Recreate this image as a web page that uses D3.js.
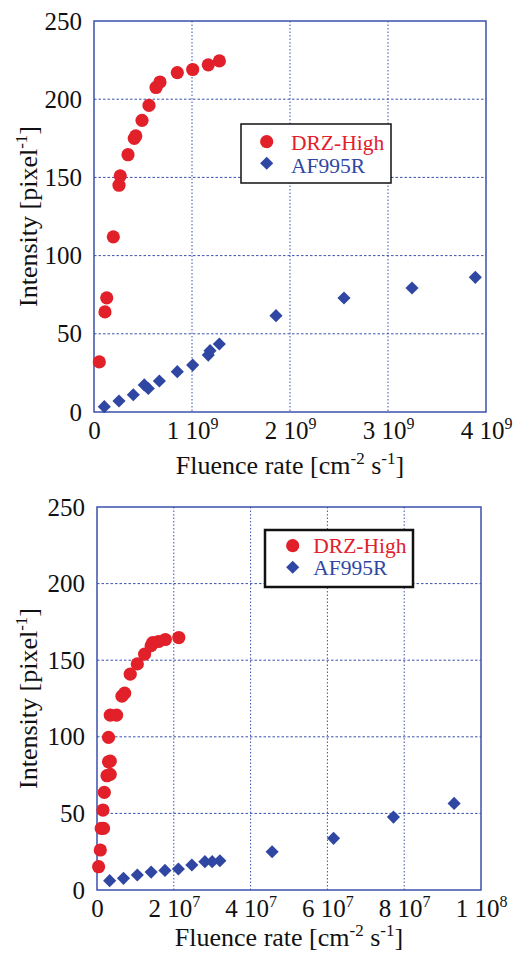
<!DOCTYPE html>
<html>
<head>
<meta charset="utf-8">
<script src="https://cdn.jsdelivr.net/npm/d3@7"></script>
<style>
  body { margin: 0; background: #fff; }
</style>
</head>
<body>
<div id="chart"></div>
<script>
// top panel (x in cm^-2 s^-1)
const topDrzX = [0.054e9, 0.112e9, 0.13e9, 0.197e9, 0.255e9, 0.268e9, 0.347e9, 0.411e9, 0.426e9, 0.49e9, 0.561e9, 0.633e9, 0.673e9, 0.85e9, 1.007e9, 1.166e9, 1.279e9];
const topDrzY = [32, 64, 73, 112, 145, 151, 164.5, 175, 176.5, 186.5, 196, 207.5, 211, 217, 219, 222, 224.5];
const topAfX = [0.105e9, 0.255e9, 0.401e9, 0.513e9, 0.554e9, 0.667e9, 0.85e9, 1.007e9, 1.166e9, 1.184e9, 1.279e9, 1.857e9, 2.551e9, 3.245e9, 3.891e9];
const topAfY = [3.4, 7, 11, 17.3, 15, 19.8, 25.8, 30, 36.4, 39.2, 43.5, 61.6, 72.9, 79.3, 86.1];
const topXTicks = [0, 1e9, 2e9, 3e9, 4e9];
const topXLabels = [["0", ""], ["1 10", "9"], ["2 10", "9"], ["3 10", "9"], ["4 10", "9"]];

// bottom panel
const botDrzX = [0.042e7, 0.086e7, 0.11e7, 0.17e7, 0.156e7, 0.19e7, 0.26e7, 0.345e7, 0.30e7, 0.345e7, 0.30e7, 0.345e7, 0.51e7, 0.65e7, 0.72e7, 0.865e7, 1.05e7, 1.24e7, 1.41e7, 1.45e7, 1.6e7, 1.78e7, 2.13e7];
const botDrzY = [15.2, 26.1, 40.2, 40.2, 52.2, 63.7, 74.6, 75.5, 83.7, 84.1, 99.6, 114.2, 114.2, 126.5, 128.5, 140.9, 147.6, 154, 159.5, 161.5, 162.2, 163.5, 164.8];
const botAfX = [0.33e7, 0.69e7, 1.05e7, 1.41e7, 1.77e7, 2.12e7, 2.47e7, 2.81e7, 3.0e7, 3.2e7, 4.56e7, 6.16e7, 7.72e7, 9.3e7];
const botAfY = [6.1, 7.6, 9.8, 11.7, 12.8, 13.7, 16.3, 18.5, 18.5, 19.1, 25, 33.7, 47.6, 56.5];
const botXTicks = [0, 2e7, 4e7, 6e7, 8e7, 1e8];
const botXLabels = [["0", ""], ["2 10", "7"], ["4 10", "7"], ["6 10", "7"], ["8 10", "7"], ["1 10", "8"]];

const yTicks = [0, 50, 100, 150, 200, 250];
const seriesNames = ["DRZ-High", "AF995R"];

const red = "#e1202a", blue = "#2f47a3", frameBlue = "#3b50aa";
const font = "Liberation Serif";
const width = 517, height = 953;

const svg = d3.select("#chart").append("svg")
    .attr("width", width)
    .attr("height", height);

function panel(p) {
    const g = svg.append("g");

    let x = d3.scaleLinear()
        .domain([0, p.xMax])
        .range([p.left, p.right]);

    let y = d3.scaleLinear()
        .domain([0, 250])
        .range([p.bottom, p.top]);

    // dotted grid
    g.selectAll(".vgrid")
        .data(p.xTicks.slice(1, -1))
        .join("line")
        .attr("x1", d => x(d)).attr("x2", d => x(d))
        .attr("y1", p.top).attr("y2", p.bottom)
        .attr("stroke", frameBlue)
        .attr("stroke-width", 1)
        .attr("stroke-dasharray", "1.5,2");

    g.selectAll(".hgrid")
        .data(yTicks.slice(1, -1))
        .join("line")
        .attr("x1", p.left).attr("x2", p.right)
        .attr("y1", d => y(d)).attr("y2", d => y(d))
        .attr("stroke", frameBlue)
        .attr("stroke-width", 1)
        .attr("stroke-dasharray", "2.5,2");

    // frame
    g.append("rect")
        .attr("x", p.left).attr("y", p.top)
        .attr("width", p.right - p.left).attr("height", p.bottom - p.top)
        .attr("fill", "none")
        .attr("stroke", frameBlue)
        .attr("stroke-width", 1.5);

    // y tick labels
    g.append("g")
        .attr("transform", `translate(${p.left},0)`)
        .call(d3.axisLeft(y).tickValues(yTicks).tickSize(0).tickPadding(12))
        .call(a => a.select(".domain").remove())
        .selectAll("text")
        .style("font-family", font)
        .attr("font-size", 25)
        .attr("fill", "#111");

    // x tick labels, "1 10^9" style
    const xa = g.append("g")
        .attr("transform", `translate(0,${p.bottom})`)
        .call(d3.axisBottom(x).tickValues(p.xTicks).tickSize(0).tickFormat(""))
        .call(a => a.select(".domain").remove());

    xa.selectAll(".tick").append("text")
        .attr("y", p.xLabelY)
        .attr("text-anchor", "middle")
        .style("font-family", font)
        .attr("font-size", 25)
        .attr("fill", "#111")
        .each(function(d, i) {
            const lab = p.xLabels[i];
            const t = d3.select(this);
            t.append("tspan").text(lab[0]);
            if (lab[1]) t.append("tspan").attr("font-size", 16).attr("dy", "-0.65em").text(lab[1]);
        });

    // axis titles
    const xt = g.append("text")
        .attr("x", (p.left + p.right) / 2)
        .attr("y", p.xTitleY)
        .attr("text-anchor", "middle")
        .style("font-family", font)
        .attr("font-size", 26)
        .attr("fill", "#111");
    xt.append("tspan").text("Fluence rate [cm");
    xt.append("tspan").attr("font-size", 17).attr("dy", -10).text("-2");
    xt.append("tspan").attr("dy", 10).text(" s");
    xt.append("tspan").attr("font-size", 17).attr("dy", -10).text("-1");
    xt.append("tspan").attr("dy", 10).text("]");

    const yt = g.append("text")
        .attr("transform", `translate(37,${(p.top + p.bottom) / 2}) rotate(-90)`)
        .attr("text-anchor", "middle")
        .style("font-family", font)
        .attr("font-size", 26)
        .attr("fill", "#111");
    yt.append("tspan").text("Intensity [pixel");
    yt.append("tspan").attr("font-size", 17).attr("dy", -10).text("-1");
    yt.append("tspan").attr("dy", 10).text("]");

    // points
    const drz = p.drzX.map((v, i) => ({ x: v, y: p.drzY[i] }));
    const af = p.afX.map((v, i) => ({ x: v, y: p.afY[i] }));

    g.selectAll(".af")
        .data(af)
        .join("path")
        .attr("d", d3.symbol(d3.symbolDiamond2, 110))
        .attr("transform", d => `translate(${x(d.x)},${y(d.y)})`)
        .attr("fill", blue);

    g.selectAll(".drz")
        .data(drz)
        .join("circle")
        .attr("cx", d => x(d.x))
        .attr("cy", d => y(d.y))
        .attr("r", 6.6)
        .attr("fill", red);

    // legend
    const lg = g.append("g");
    lg.append("rect")
        .attr("x", p.leg.x).attr("y", p.leg.y)
        .attr("width", p.leg.w).attr("height", p.leg.h)
        .attr("fill", "#fff")
        .attr("stroke", "#111")
        .attr("stroke-width", p.leg.sw);
    lg.append("circle")
        .attr("cx", p.leg.mx).attr("cy", p.leg.m1)
        .attr("r", 6.6).attr("fill", red);
    lg.append("path")
        .attr("d", d3.symbol(d3.symbolDiamond2, 110))
        .attr("transform", `translate(${p.leg.mx},${p.leg.m2})`)
        .attr("fill", blue);
    lg.append("text")
        .attr("x", p.leg.tx).attr("y", p.leg.b1)
        .style("font-family", font)
        .attr("font-size", 21.5).attr("fill", red)
        .text(seriesNames[0]);
    lg.append("text")
        .attr("x", p.leg.tx).attr("y", p.leg.b2)
        .style("font-family", font)
        .attr("font-size", 21.5).attr("fill", blue)
        .text(seriesNames[1]);
}

panel({
    left: 94, right: 486, top: 21, bottom: 412, xMax: 4e9,
    xTicks: topXTicks, xLabels: topXLabels, xLabelY: 27, xTitleY: 474,
    drzX: topDrzX, drzY: topDrzY, afX: topAfX, afY: topAfY,
    leg: { x: 241, y: 124, w: 150, h: 59, sw: 1.5, mx: 266.7, m1: 141.7, m2: 163.3, tx: 291, b1: 150, b2: 173 }
});

panel({
    left: 97, right: 481, top: 507, bottom: 890, xMax: 1e8,
    xTicks: botXTicks, xLabels: botXLabels, xLabelY: 27, xTitleY: 946,
    drzX: botDrzX, drzY: botDrzY, afX: botAfX, afY: botAfY,
    leg: { x: 265, y: 530, w: 148, h: 57, sw: 2.5, mx: 292.7, m1: 545.7, m2: 567.3, tx: 313.3, b1: 553.3, b2: 575 }
});
</script>
</body>
</html>
